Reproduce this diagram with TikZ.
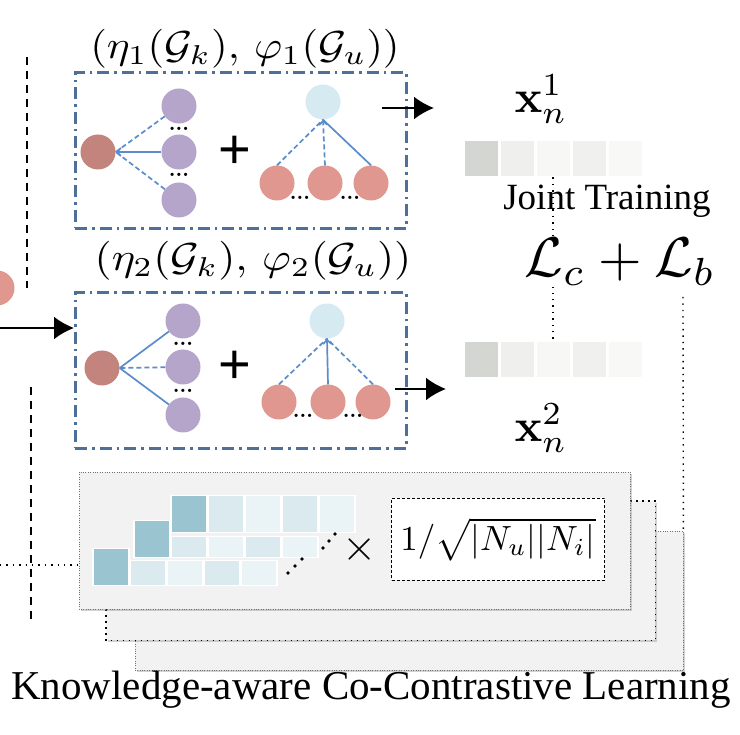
\documentclass[tikz,border=0pt]{standalone}
\usepackage{amsmath}
\usepackage[no-math]{fontspec}
\newfontfamily\tnr{Liberation Serif}
\newfontfamily\lsans{Liberation Sans}
\usetikzlibrary{arrows.meta,shadows}
\definecolor{ddblue}{HTML}{4E6F97}
\definecolor{edblue}{HTML}{5B8DCB}
\definecolor{brn}{HTML}{C3847E}
\definecolor{prp}{HTML}{B5A5CA}
\definecolor{lbl}{HTML}{D5EAF1}
\definecolor{pnk}{HTML}{E0978F}
\definecolor{gbox}{HTML}{F2F2F2}
\definecolor{mdark}{HTML}{9AC4D0}
\definecolor{mla}{HTML}{DBEAEE}
\definecolor{mlb}{HTML}{EAF3F5}
\definecolor{vga}{HTML}{D4D6D2}
\definecolor{vgb}{HTML}{EFEFEE}
\definecolor{vgc}{HTML}{F7F7F6}
\definecolor{vgd}{HTML}{F0F0EF}
\definecolor{vge}{HTML}{F8F8F7}
\begin{document}
\begin{tikzpicture}[x=1pt,y=-1pt,
  every node/.style={inner sep=0pt},
  ddbox/.style={draw=ddblue, line width=2.8pt, dash pattern=on 12pt off 5pt on 2.5pt off 5pt},
  nb/.style={circle, minimum size=35pt, fill=#1},
  ed/.style={draw=edblue, line width=1.7pt},
  eds/.style={ed, dash pattern=on 5pt off 3pt},
  tipm/.style={-{Straight Barb[length=4pt,width=8pt]}},
  arr/.style={-{Latex[length=20pt,width=23pt]}, line width=2.2pt},
  dotsn/.style={font=\bfseries, scale=2.1},
  plusn/.style={scale=5.6},
  gb/.style={rectangle, fill=gbox, anchor=north west, drop shadow={shadow xshift=1.5pt, shadow yshift=-2pt, opacity=0.35}},
  thindot/.style={draw=black!55, line width=0.8pt, dash pattern=on 0.8pt off 1.6pt},
  thickdot/.style={draw=black, line width=1.5pt, dash pattern=on 1.5pt off 4.5pt},
  blackdot/.style={draw=black, line width=1.4pt, dash pattern=on 1.4pt off 5pt},
  blackdash/.style={draw=black, line width=1.5pt, dash pattern=on 8pt off 6pt},
  mcell/.style={rectangle, draw=white, line width=1.5pt, anchor=north west, minimum width=36pt},
  vcell/.style={rectangle, minimum width=34pt, minimum height=36pt, draw=white, line width=1pt}
]
\clip (0,0) rectangle (740,735);
\fill[white] (0,0) rectangle (740,735);

% ---------- left decorations ----------
\node[nb=pnk] (half) at (-3,288) {};
\coordinate (dA1) at (27,57);
\coordinate (dA2) at (27,288);
\draw[blackdash] (dA1) -- (dA2);
\coordinate (dB1) at (31,387);
\coordinate (dB2) at (31,620);
\draw[blackdash] (dB1) -- (dB2);

% ---------- box 1 ----------
\node[rectangle, ddbox, anchor=north west, minimum width=331pt, minimum height=156pt] (box1) at (74,71) {};
\node[xscale=4.3, yscale=3.9] (lab1) at (245,49) {$(\eta_1(\mathcal{G}_k),\,\varphi_1(\mathcal{G}_u))$};
\node[nb=brn] (b1) at (98,152) {};
\node[nb=prp] (p1a) at (179,106) {};
\node[nb=prp] (p1b) at (179,152) {};
\node[nb=prp] (p1c) at (179,200) {};
\node[dotsn] (d1a) at (179,129) {...};
\node[dotsn] (d1b) at (179,175) {...};
\draw[eds] (p1a) -- (b1.east);
\draw[ed,tipm] (p1b) -- (b1.east);
\draw[eds] (p1c) -- (b1.east);
\node[plusn] (plus1) at (235,152) {\lsans +};
\node[nb=lbl] (l1) at (323,102) {};
\node[nb=pnk] (r1a) at (277,183) {};
\node[nb=pnk] (r1b) at (325,183) {};
\node[nb=pnk] (r1c) at (371,183) {};
\node[dotsn] (d1c) at (300,198) {...};
\node[dotsn] (d1d) at (350,198) {...};
\draw[eds] (r1a.north) -- (l1.south);
\draw[eds,tipm] (r1b.north) -- (l1.south);
\draw[ed] (r1c.north) -- (l1.south);
\coordinate (a1s) at (382,108);
\coordinate (a1e) at (434,108);
\draw[arr] (a1s) -- (a1e);

% ---------- box 2 ----------
\node[rectangle, ddbox, anchor=north west, minimum width=331pt, minimum height=156pt] (box2) at (74,291) {};
\node[xscale=4.4, yscale=3.9] (lab2) at (253,261) {$(\eta_2(\mathcal{G}_k),\,\varphi_2(\mathcal{G}_u))$};
\node[nb=brn] (b2) at (102,368) {};
\node[nb=prp] (p2a) at (183,321) {};
\node[nb=prp] (p2b) at (183,367) {};
\node[nb=prp] (p2c) at (183,415) {};
\node[dotsn] (d2a) at (183,344) {...};
\node[dotsn] (d2b) at (183,391) {...};
\draw[ed] (p2a) -- (b2.east);
\draw[eds] (p2b) -- (b2.east);
\draw[ed] (p2c) -- (b2.east);
\node[plusn] (plus2) at (235,367) {\lsans +};
\node[nb=lbl] (l2) at (327,321) {};
\node[nb=pnk] (r2a) at (279,402) {};
\node[nb=pnk] (r2b) at (328,402) {};
\node[nb=pnk] (r2c) at (373,402) {};
\node[dotsn] (d2c) at (303,416) {...};
\node[dotsn] (d2d) at (353,416) {...};
\draw[eds] (r2a.north) -- (l2.south);
\draw[ed,tipm] (r2b.north) -- (l2.south);
\draw[eds] (r2c.north) -- (l2.south);
\coordinate (a2s) at (395,389);
\coordinate (a2e) at (446,389);
\draw[arr] (a2s) -- (a2e);
\coordinate (a0s) at (0,328);
\draw[arr] (a0s) -- (a0s -| box2.west);

% ---------- embeddings ----------
\node[scale=4.6] (x1) at (541,99) {$\mathbf{x}_n^1$};
\node[scale=4.6] (x2) at (541,428) {$\mathbf{x}_n^2$};
\node[vcell, fill=vga] (u1) at (481,159) {};
\node[vcell, fill=vgb] (u2) at (517,159) {};
\node[vcell, fill=vgc] (u3) at (553,159) {};
\node[vcell, fill=vgd] (u4) at (589,159) {};
\node[vcell, fill=vge] (u5) at (625,159) {};
\node[vcell, fill=vga] (w1) at (481,360) {};
\node[vcell, fill=vgb] (w2) at (517,360) {};
\node[vcell, fill=vgc] (w3) at (553,360) {};
\node[vcell, fill=vgd] (w4) at (589,360) {};
\node[vcell, fill=vge] (w5) at (625,360) {};
\draw[blackdot] (u3.south) -- (w3.north);
\node (jt) at (607,201) {\tnr\fontsize{37}{40}\selectfont Joint Training};
\node[scale=5.6, fill=white, inner sep=0.3pt] (loss) at (620,262) {$\mathcal{L}_c+\mathcal{L}_b$};
\coordinate (lb) at (683,297);

% ---------- co-contrastive stack ----------
\node[gb, minimum width=548pt, minimum height=139pt] (boxC) at (135,531) {};
\draw[thindot] (boxC.north west) rectangle (boxC.south east);
\node[gb, minimum width=549pt, minimum height=139pt] (boxB) at (106,501) {};
\draw[thickdot] (boxB.north west) rectangle (boxB.south east);
\node[gb, minimum width=551pt, minimum height=137pt] (boxA) at (79,472) {};
\draw[thindot] (boxA.north west) rectangle (boxA.south east);
\draw[blackdot] (lb) -- (boxC.north east);
\coordinate (lh) at (0,565);
\draw[blackdot] (lh) -- (lh -| boxA.west);

% matrix rows
\node[mcell, fill=mdark, minimum height=37pt] (m30) at (170,495) {};
\node[mcell, fill=mla, minimum height=37pt] (m31) at (207,495) {};
\node[mcell, fill=mlb, minimum height=37pt] (m32) at (244,495) {};
\node[mcell, fill=mla, minimum height=37pt] (m33) at (281,495) {};
\node[mcell, fill=mlb, minimum height=37pt] (m34) at (318,495) {};
\node[mcell, fill=mdark, minimum height=37pt] (m20) at (133,520) {};
\node[mcell, fill=mla, minimum height=21pt] (m21) at (170,536) {};
\node[mcell, fill=mlb, minimum height=21pt] (m22) at (207,536) {};
\node[mcell, fill=mla, minimum height=21pt] (m23) at (244,536) {};
\node[mcell, fill=mlb, minimum height=21pt] (m24) at (281,536) {};
\node[mcell, fill=mdark, minimum height=37pt] (m10) at (92,548) {};
\node[mcell, fill=mla, minimum height=25pt] (m11) at (129,560) {};
\node[mcell, fill=mlb, minimum height=25pt] (m12) at (166,560) {};
\node[mcell, fill=mla, minimum height=25pt] (m13) at (203,560) {};
\node[mcell, fill=mlb, minimum height=25pt] (m14) at (240,560) {};
\foreach \p in {(288,573),(295,566),(302,559),(323,548),(329,541),(335,534)}
  \fill \p circle (1.9pt);
\node[scale=4.4] (times) at (360,550) {$\times$};
\node[rectangle, fill=white, draw=black, line width=1pt, dash pattern=on 3pt off 2pt,
      anchor=north west, minimum width=213pt, minimum height=82pt] (fbox) at (391,498) {};
\node[scale=3.5] (form) at (fbox.center) {$1/\sqrt{|N_u||N_i|}$};

\node (title) at (371,690) {\tnr\fontsize{41}{45}\selectfont Knowledge-aware Co-Contrastive Learning};
\end{tikzpicture}
\end{document}
